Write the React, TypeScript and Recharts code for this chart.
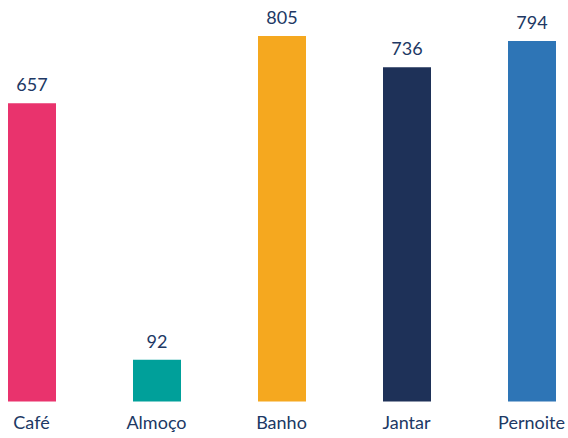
import { BarChart, Bar, XAxis, YAxis, Cell, LabelList } from 'recharts';

const categories = ['Café', 'Almoço', 'Banho', 'Jantar', 'Pernoite'];
const values = [657, 92, 805, 736, 794];
const colors = ['#E9336D', '#00A09A', '#F5A81F', '#1E3158', '#2E75B6'];

const data = categories.map((name, i) => ({ name, value: values[i] }));

const textColor = '#203864';
const font = 'Lato, "Open Sans", sans-serif';

export default function App() {
  return (
    <div style={{ position: 'absolute', left: 0, top: 0, width: 568, height: 438, overflow: 'hidden', background: '#fff' }}>
      <div style={{ position: 'absolute', left: -31, top: 0 }}>
        <BarChart width={625} height={438} data={data} margin={{ top: 15.5, right: 0, left: 0, bottom: 0 }} barSize={48}>
          <XAxis
            dataKey="name"
            height={36.5}
            axisLine={false}
            tickLine={false}
            tickMargin={9}
            interval={0}
            tick={{ fill: textColor, fontSize: 18, fontFamily: font }}
          />
          <YAxis hide domain={[0, 850]} />
          <Bar dataKey="value" isAnimationActive={false}>
            {data.map((d, i) => (
              <Cell key={d.name} fill={colors[i]} />
            ))}
            <LabelList dataKey="value" position="top" offset={12} fill={textColor} fontSize={18} fontFamily={font} />
          </Bar>
        </BarChart>
      </div>
    </div>
  );
}
